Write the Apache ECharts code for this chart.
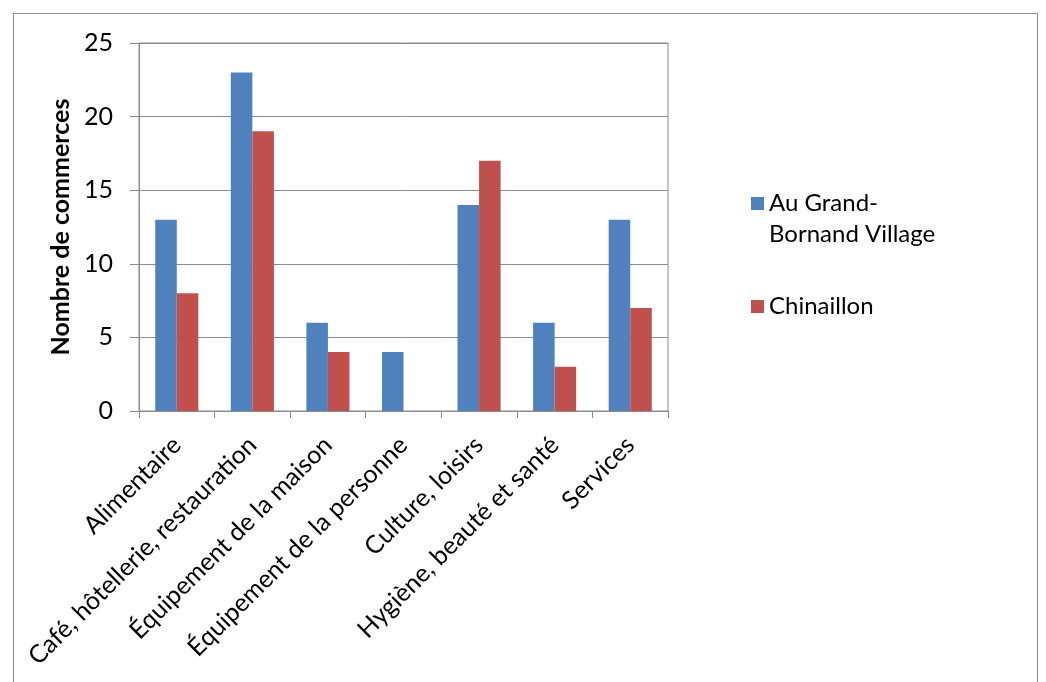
<!DOCTYPE html>
<html><head><meta charset="utf-8">
<script src="https://cdn.jsdelivr.net/npm/echarts@6/dist/echarts.min.js"></script>
<style>
html,body{margin:0;padding:0;background:#fff;}
#frame{position:absolute;left:13px;top:13px;width:1025px;height:700px;border:1px solid #8c8c8c;box-sizing:border-box;}
#c{position:absolute;left:0;top:0;width:1046px;height:682px;}
</style></head>
<body>
<div id="frame"></div>
<div id="c"></div>
<script>
const categories = ["Alimentaire","Café, hôtellerie, restauration","Équipement de la maison","Équipement de la personne","Culture, loisirs","Hygiène, beauté et santé","Services"];
const villageValues = [13,23,6,4,14,6,13];
const chinaillonValues = [8,19,4,0,17,3,7];
const seriesNames = ["Au Grand-Bornand Village","Chinaillon"];
const yTicks = [0,5,10,15,20,25];

const font = "Lato, 'Open Sans', sans-serif";
const chart = echarts.init(document.getElementById('c'));
const legendBase = {
  orient:'vertical',left:746,itemWidth:13,itemHeight:13,icon:'rect'
};
chart.setOption({
  animation:false,
  textStyle:{fontFamily:font},
  grid:{left:139,right:378,top:43,bottom:271,show:true,borderColor:'#8c8c8c',borderWidth:1},
  legend:[
    Object.assign({}, legendBase, {
      top:152,data:[seriesNames[0]],
      textStyle:{fontSize:24,color:'#000',fontFamily:font,lineHeight:31},
      formatter:function(n){return " \nAu Grand-\nBornand Village";}
    }),
    Object.assign({}, legendBase, {
      top:286,data:[seriesNames[1]],
      textStyle:{fontSize:24,color:'#000',fontFamily:font,lineHeight:31}
    })
  ],
  xAxis:{
    type:'category',data:categories,
    axisLine:{lineStyle:{color:'#8c8c8c',width:1}},
    axisTick:{show:true,length:7,lineStyle:{color:'#8c8c8c'}},
    axisLabel:{rotate:45,fontSize:25,color:'#000',margin:30,interval:0,fontFamily:font}
  },
  yAxis:{
    type:'value',min:0,max:25,interval:5,
    name:'Nombre de commerces',nameLocation:'middle',nameGap:62,
    nameTextStyle:{fontSize:25,fontWeight:'bold',color:'#000',fontFamily:font},
    axisLine:{show:true,lineStyle:{color:'#8c8c8c',width:1}},
    axisTick:{show:true,length:9,lineStyle:{color:'#8c8c8c'}},
    axisLabel:{fontSize:25,color:'#000',margin:26,fontFamily:font,
      formatter:function(v){return yTicks.indexOf(v)>=0?String(v):'';}},
    splitLine:{show:true,lineStyle:{color:'#8c8c8c',width:1}}
  },
  series:[
    {name:seriesNames[0],type:'bar',data:villageValues,barGap:'0%',barCategoryGap:'43%',itemStyle:{color:'#4F81BD'}},
    {name:seriesNames[1],type:'bar',data:chinaillonValues,itemStyle:{color:'#C0504D'}}
  ]
});
</script>
</body></html>
